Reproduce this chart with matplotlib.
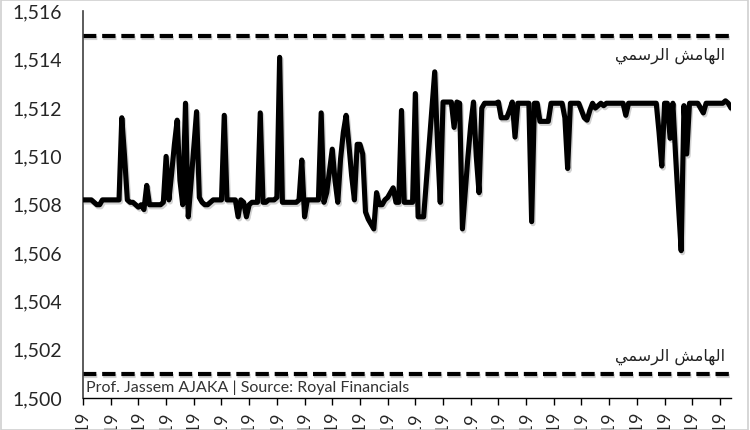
import matplotlib
matplotlib.use("Agg")
import matplotlib.pyplot as plt
import matplotlib.patheffects as pe
from matplotlib.patches import Rectangle
import pandas as pd

plt.rcParams['font.family'] = ['Lato', 'DejaVu Sans']

# sell rate, one value per business day of 2019
rate = [
    1508.2, 1508.2, 1508.2, 1508.2, 1508.1, 1508.0, 1508.0, 1508.2, 1508.2, 1508.2,
    1508.2, 1508.2, 1508.2, 1508.2, 1511.6, 1510.0, 1508.2, 1508.1, 1508.1, 1508.0,
    1507.9, 1508.0, 1507.8, 1508.8, 1508.0, 1508.0, 1508.0, 1508.0, 1508.0, 1508.1,
    1510.0, 1508.2, 1509.3, 1510.5, 1511.5, 1509.0, 1508.0, 1512.2, 1507.5, 1508.9,
    1510.4, 1511.85, 1508.3, 1508.1, 1508.0, 1508.0, 1508.1, 1508.2, 1508.2, 1508.2,
    1508.2, 1511.7, 1508.2, 1508.2, 1508.2, 1508.2, 1507.5, 1508.2, 1508.1, 1507.5,
    1508.0, 1508.1, 1508.1, 1508.1, 1511.8, 1508.1, 1508.1, 1508.2, 1508.2, 1508.2,
    1508.3, 1514.1, 1508.1, 1508.1, 1508.1, 1508.1, 1508.1, 1508.1, 1508.2, 1509.85,
    1507.5, 1508.2, 1508.2, 1508.2, 1508.2, 1508.2, 1511.8, 1508.1, 1508.5, 1509.4,
    1510.3, 1509.0, 1508.1, 1509.9, 1511.0, 1511.7, 1510.5, 1509.2, 1508.2, 1510.5,
    1510.5, 1510.1, 1507.7, 1507.4, 1507.2, 1507.0, 1508.5, 1508.0, 1508.0, 1508.2,
    1508.3, 1508.5, 1508.7, 1508.1, 1508.1, 1511.9, 1508.1, 1508.1, 1508.1, 1508.1,
    1512.6, 1507.5, 1507.5, 1507.5, 1509.0, 1510.5, 1512.0, 1513.5, 1510.5, 1508.1,
    1512.25, 1512.25, 1512.25, 1512.25, 1511.2, 1512.25, 1512.2, 1507.0, 1508.5, 1510.0,
    1511.3, 1512.25, 1510.0, 1508.5, 1512.0, 1512.2, 1512.2, 1512.2, 1512.2, 1512.2,
    1512.25, 1511.6, 1511.6, 1511.6, 1511.9, 1512.25, 1510.8, 1512.2, 1512.2, 1512.2,
    1512.2, 1512.2, 1507.3, 1512.2, 1512.2, 1511.45, 1511.45, 1511.45, 1511.45, 1512.2,
    1512.2, 1512.2, 1512.2, 1512.2, 1511.6, 1509.5, 1512.2, 1512.2, 1512.2, 1512.2,
    1511.9, 1511.6, 1511.5, 1511.9, 1512.2, 1512.0, 1512.1, 1512.2, 1512.1, 1512.2,
    1512.2, 1512.2, 1512.2, 1512.2, 1512.2, 1512.2, 1511.7, 1512.2, 1512.2, 1512.2,
    1512.2, 1512.2, 1512.2, 1512.2, 1512.2, 1512.2, 1512.2, 1512.2, 1511.0, 1509.6,
    1512.2, 1512.2, 1510.75, 1512.2, 1510.0, 1508.0, 1506.1, 1512.1, 1510.1, 1512.2,
    1512.2, 1512.2, 1512.2, 1512.0, 1511.8, 1512.2, 1512.2, 1512.2, 1512.2, 1512.2,
    1512.2, 1512.2, 1512.3, 1512.2, 1512.0,
]
dates = pd.bdate_range("2019-01-02", periods=len(rate)).strftime("%d/%m/%Y")

band_top = 1515
band_bottom = 1501
band_label = "الهامش الرسمي"
source = "Prof. Jassem AJAKA | Source: Royal Financials"

# matplotlib has no arabic shaping -> pick presentation forms by hand
FORMS = {  # isolated, final, initial, medial
    'ا': ('\ufe8d', '\ufe8e', None, None),
    'ر': ('\ufead', '\ufeae', None, None),
    'ل': ('\ufedd', '\ufede', '\ufedf', '\ufee0'),
    'ه': ('\ufee9', '\ufeea', '\ufeeb', '\ufeec'),
    'م': ('\ufee1', '\ufee2', '\ufee3', '\ufee4'),
    'ش': ('\ufeb5', '\ufeb6', '\ufeb7', '\ufeb8'),
    'س': ('\ufeb1', '\ufeb2', '\ufeb3', '\ufeb4'),
    'ي': ('\ufef1', '\ufef2', '\ufef3', '\ufef4'),
}

def shape(txt):
    out = []
    for k, c in enumerate(txt):
        if c not in FORMS:
            out.append(c)
            continue
        prev = txt[k - 1] if k > 0 else ''
        nxt = txt[k + 1] if k + 1 < len(txt) else ''
        pj = prev in FORMS and FORMS[prev][2] is not None
        nj = nxt in FORMS and FORMS[c][2] is not None
        f = FORMS[c]
        out.append(f[3] if pj and nj else f[1] if pj else f[2] if nj else f[0])
    return ''.join(out)[::-1]

fig = plt.figure(figsize=(7.5, 4.3), dpi=100)
ax = fig.add_axes([0.1107, 0.0744, 0.864, 0.899])
fig.patches.append(Rectangle((0.001, 0.0), 0.996, 1.0, transform=fig.transFigure,
                             fill=False, ec='#d0d0d0', lw=1.2))

shadow = [pe.SimpleLineShadow(offset=(1, -1.5), shadow_color='gray', alpha=0.35), pe.Normal()]
x = list(range(len(rate)))
ax.plot(x, rate, color='black', lw=3.7, solid_joinstyle='round', solid_capstyle='round',
        path_effects=shadow, zorder=3)
for lvl in (band_top, band_bottom):
    ax.axhline(lvl, color='black', lw=3.0, dashes=(3.2, 1.4), path_effects=shadow, zorder=2)

ax.text(231.8, 1514.15, shape(band_label), family='DejaVu Sans', fontsize=11.5,
        ha='right', va='center', color='#222222')
ax.text(231.8, 1501.7, shape(band_label), family='DejaVu Sans', fontsize=11.5,
        ha='right', va='center', color='#222222')
ax.text(1.1, 1500.12, source, fontsize=11.5, ha='left', va='bottom', color='#333333')

ax.set_xlim(0, len(rate) - 1)
ax.set_ylim(1500, 1516)
ax.set_yticks(range(1500, 1517, 2))
ax.set_yticklabels([f"{v:,}" for v in range(1500, 1517, 2)])
ax.set_xticks(x[::10])
ax.set_xticklabels(dates[::10], rotation=90)

for s in ('top', 'right'):
    ax.spines[s].set_visible(False)
ax.spines['left'].set_color('#404040')
ax.spines['left'].set_linewidth(1.2)
ax.spines['bottom'].set_color('black')
ax.spines['bottom'].set_linewidth(1.0)
ax.tick_params(axis='y', length=0, pad=15, labelsize=14, labelcolor='#262626')
ax.tick_params(axis='x', direction='out', length=5, width=1, pad=5, labelsize=13, labelcolor='#262626')

fig.savefig("out.png", dpi=100)
